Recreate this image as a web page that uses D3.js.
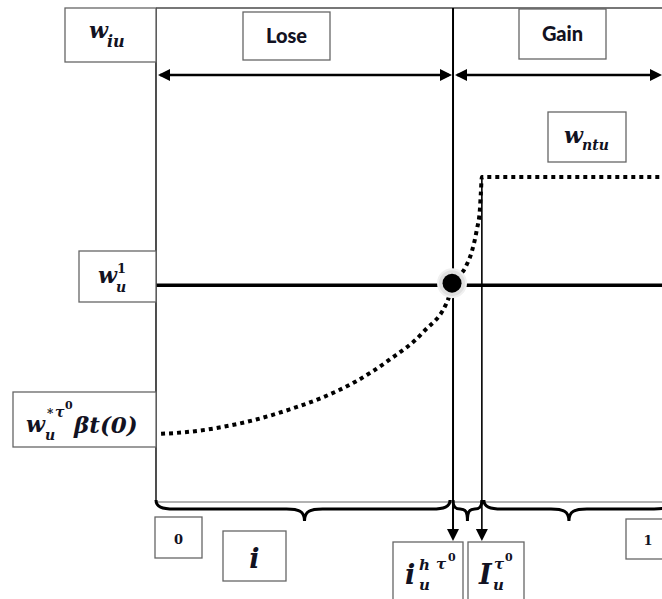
<!DOCTYPE html>
<html><head><meta charset="utf-8">
<script src="https://cdn.jsdelivr.net/npm/d3@7"></script>
<style>body{margin:0;background:#fff}</style>
</head><body><svg width="662" height="599"></svg>
<script>
// values (normalised units)
var curveX = [0.010, 0.065, 0.132, 0.198, 0.263, 0.330, 0.395, 0.460, 0.528, 0.579, 0.587, 0.611, 0.625, 0.634, 0.640, 0.642, 0.644, 1.0];
var curveY = [0.138, 0.142, 0.152, 0.167, 0.187, 0.212, 0.244, 0.287, 0.344, 0.415, 0.443, 0.474, 0.510, 0.551, 0.591, 0.626, 0.658, 0.658];
var w1Level = 0.439;
var ntuLevel = 0.658;
var iH = 0.587, IT = 0.644;
var regions = ["Lose", "Gain"];
var xTicks = ["0", "1"];

var svg = d3.select("svg");
var x = d3.scaleLinear().domain([0, 1]).range([156, 662]);
var y = d3.scaleLinear().domain([0, 1]).range([502, 8]);

var ink = "#121222";
var math = "'DejaVu Serif', 'Liberation Serif', serif";

function box(x0, y0, w, h) {
  svg.append("rect").attr("x", x0).attr("y", y0).attr("width", w).attr("height", h)
    .attr("fill", "#fff").attr("stroke", "#666").attr("stroke-width", 1.3);
}
function mt(px, py, s, size, italic) {
  return svg.append("text").attr("x", px).attr("y", py).text(s)
    .attr("font-family", math).attr("font-weight", "bold")
    .attr("font-style", italic === false ? "normal" : "italic")
    .attr("font-size", size).attr("fill", ink);
}
function head(px, py, dir) {
  var L = 12, W = 6, p;
  if (dir == "l") p = [[px, py], [px + L, py - W], [px + L, py + W]];
  if (dir == "r") p = [[px, py], [px - L, py - W], [px - L, py + W]];
  if (dir == "d") p = [[px, py], [px - W, py - L], [px + W, py - L]];
  svg.append("path").attr("d", "M" + p.join("L") + "Z").attr("fill", "#000");
}
function brace(x1, x2, tx) {
  var yt = y(0), yl = yt + 7, tip = yt + 19, r = Math.min(18, (x2 - x1) / 4);
  var d = "M" + x1 + "," + (yt - 2) +
    "C" + x1 + "," + (yl - 2) + " " + (x1 + r / 3) + "," + yl + " " + (x1 + r) + "," + yl +
    "L" + (tx - r) + "," + yl +
    "C" + (tx - r / 3) + "," + yl + " " + tx + "," + (yl + 2) + " " + tx + "," + tip +
    "C" + tx + "," + (yl + 2) + " " + (tx + r / 3) + "," + yl + " " + (tx + r) + "," + yl +
    "L" + (x2 - r) + "," + yl +
    "C" + (x2 - r / 3) + "," + yl + " " + x2 + "," + (yl - 2) + " " + x2 + "," + (yt - 2);
  svg.append("path").attr("d", d).attr("fill", "none").attr("stroke", "#000").attr("stroke-width", 3);
}

// frame
svg.append("line").attr("x1", x(0)).attr("x2", x(1)).attr("y1", y(1)).attr("y2", y(1))
  .attr("stroke", "#777").attr("stroke-width", 2);
svg.append("line").attr("x1", x(0)).attr("x2", x(1)).attr("y1", y(0)).attr("y2", y(0))
  .attr("stroke", "#999").attr("stroke-width", 1.5);
svg.append("line").attr("x1", x(0)).attr("x2", x(0)).attr("y1", y(1)).attr("y2", y(0))
  .attr("stroke", "#222").attr("stroke-width", 1.6);

// braces
brace(x(0), x(iH) - 3, x(iH / 2));
brace(x(iH), x(IT), (x(iH) + x(IT)) / 2);
brace(x(IT) + 2, x(1) + 10, x((IT + 1) / 2) - 3);

// verticals
svg.append("line").attr("x1", x(iH)).attr("x2", x(iH)).attr("y1", y(1)).attr("y2", 530)
  .attr("stroke", "#000").attr("stroke-width", 2);
svg.append("line").attr("x1", x(IT)).attr("x2", x(IT)).attr("y1", y(ntuLevel)).attr("y2", 530)
  .attr("stroke", "#000").attr("stroke-width", 1.6);
head(x(iH), 541, "d");
head(x(IT), 541, "d");

// top arrows
var ay = 75;
svg.append("line").attr("x1", x(0) + 4).attr("x2", x(iH) - 4).attr("y1", ay).attr("y2", ay)
  .attr("stroke", "#000").attr("stroke-width", 2.5);
svg.append("line").attr("x1", x(iH) + 4).attr("x2", x(1) - 4).attr("y1", ay).attr("y2", ay)
  .attr("stroke", "#000").attr("stroke-width", 2.5);
head(x(0) + 2, ay, "l"); head(x(iH) - 1, ay, "r");
head(x(iH) + 2, ay, "l"); head(x(1), ay, "r");

// w1 level
svg.append("line").attr("x1", x(0)).attr("x2", x(1)).attr("y1", y(w1Level)).attr("y2", y(w1Level))
  .attr("stroke", "#000").attr("stroke-width", 3.5);

// dotted curve
var pts = curveX.map(function(v, i) { return [x(v), y(curveY[i])]; });
svg.append("path").attr("d", d3.line().curve(d3.curveMonotoneX)(pts))
  .attr("fill", "none").attr("stroke", "#000").attr("stroke-width", 4)
  .attr("stroke-dasharray", "4,4");

// intersection point
svg.append("circle").attr("cx", x(iH) - 1).attr("cy", y(w1Level) - 2).attr("r", 14)
  .attr("fill", "#e0e0e0").attr("stroke", "#f0f0f0").attr("stroke-width", 2);
svg.append("circle").attr("cx", x(iH) - 1).attr("cy", y(w1Level) - 2).attr("r", 9.5).attr("fill", "#000");

// region labels
[[243, 12, 87, 48], [519, 9, 87, 50]].forEach(function(b, i) {
  box(b[0], b[1], b[2], b[3]);
  svg.append("text").attr("x", b[0] + b[2] / 2).attr("y", b[1] + b[3] / 2 + 7)
    .attr("text-anchor", "middle").attr("font-family", "Lato, 'Open Sans', sans-serif")
    .attr("font-weight", "900").attr("font-size", 20).attr("fill", ink).text(regions[i]);
});

// w_iu
box(65, 8, 91, 54);
mt(89, 38, "w", 22); mt(107, 47, "iu", 16);
// w_ntu
box(548, 112, 78, 50);
mt(564, 143, "w", 22); mt(582, 150, "ntu", 14);
// w_u^1
box(79, 251, 77, 51);
mt(98, 283, "w", 22); mt(117, 273, "1", 13, false); mt(116, 292, "u", 14);
// w_u^{* tau0} beta t(0)
box(13, 392, 143, 55);
mt(26, 432, "w", 22); mt(45, 440, "u", 14); mt(47, 418, "*", 12, false);
mt(55, 417, "τ", 14); mt(65, 409, "0", 11, false);
mt(74, 433, "βt(0)", 23);

// x ticks
box(155, 517, 47, 41);
mt(178.5, 544, xTicks[0], 13, false).attr("text-anchor", "middle");
box(626, 519, 45, 40);
mt(648, 545, xTicks[1], 13, false).attr("text-anchor", "middle");

// i
box(223, 531, 63, 50);
mt(254.5, 568, "i", 27).attr("text-anchor", "middle");
// i_u^{h tau0}
box(393, 542, 70, 70);
mt(405, 584, "i", 27); mt(419, 570, "h", 15); mt(419, 590, "u", 15);
mt(436, 569, "τ", 15); mt(448, 561, "0", 11, false);
// I_u^{tau0}
box(468, 542, 56, 70);
mt(479, 584, "I", 27); mt(494, 569, "τ", 15); mt(505, 561, "0", 11, false); mt(493, 590, "u", 15);
</script>
</body></html>
